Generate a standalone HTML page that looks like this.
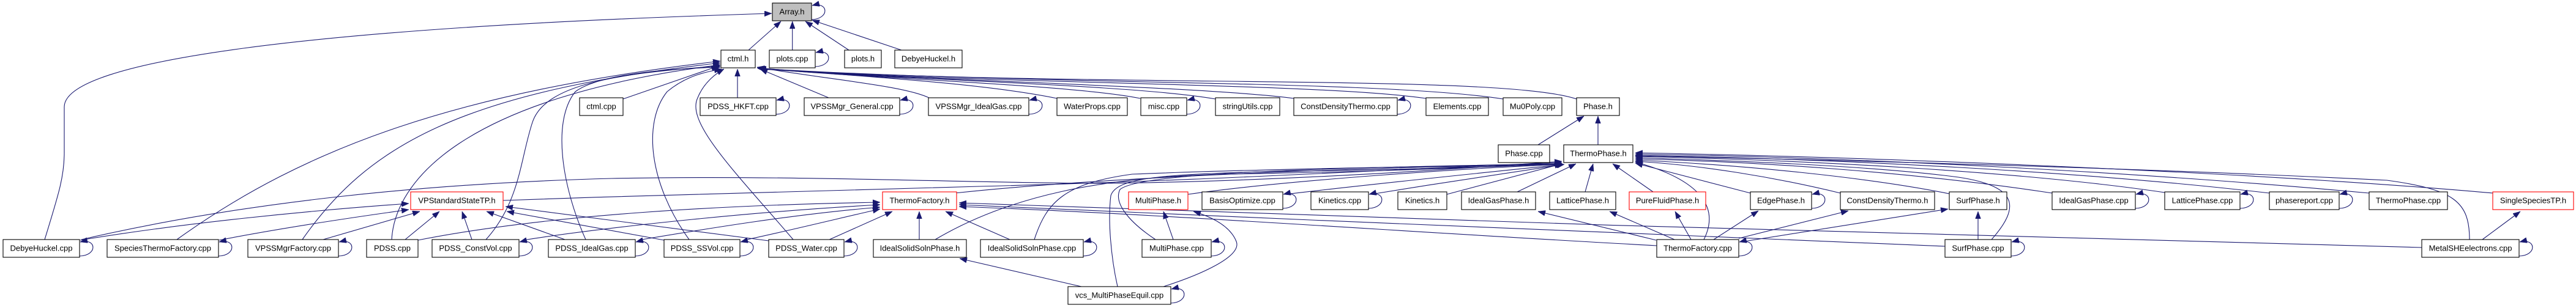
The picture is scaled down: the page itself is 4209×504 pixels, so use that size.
<!DOCTYPE html>
<html><head><meta charset="utf-8"><style>
html,body{margin:0;padding:0;background:#fff;}
svg{display:block;}
text{font-family:"Liberation Sans",Arial,sans-serif;font-size:13px;text-anchor:middle;fill:#000;}
.e{fill:none;stroke:#191970;stroke-width:1.1;marker-end:url(#a);}
.n{fill:#fff;stroke:#000;stroke-width:1.1;}
.r{fill:#fff;stroke:#ff0000;stroke-width:1.1;}
</style></head><body>
<svg width="4209" height="504" viewBox="0 0 4209 504" xmlns="http://www.w3.org/2000/svg">
<defs><marker id="a" markerWidth="12" markerHeight="9" refX="12" refY="4.5" orient="auto" markerUnits="userSpaceOnUse" viewBox="0 0 12 9"><path d="M0,0 L12,4.5 L0,9 z" fill="#191970" stroke="#191970" stroke-width="0.5"/></marker></defs>
<rect width="4209" height="504" fill="#fff"/>
<g>
<!-- to Array.h -->
<path class="e" d="M1223,82 L1276,35"/>
<path class="e" d="M1294.7,82 L1294.7,35"/>
<path class="e" d="M1387,82 L1316,35"/>
<path class="e" d="M1473,82 L1327,33"/>
<path class="e" d="M73,392 C95,320 105,290 105,250 L105,175 C105,100 500,45 1261,22"/>
<!-- to ctml.h -->
<path class="e" d="M1018,162 L1174,108"/>
<path class="e" d="M1205,160 L1205,113"/>
<path class="e" d="M1354,160 L1242,113"/>
<path class="e" d="M1520,161 C1480,140 1350,130 1237,110"/>
<path class="e" d="M1727,161 C1600,135 1400,125 1237,111"/>
<path class="e" d="M1863,161 C1750,138 1400,128 1238,111"/>
<path class="e" d="M1986,162 C1850,138 1450,130 1238,112"/>
<path class="e" d="M2114,161 C1950,140 1500,132 1239,112"/>
<path class="e" d="M2330,161 C2150,135 1600,138 1239,112"/>
<path class="e" d="M2456,162 C2250,130 1700,140 1240,112"/>
<path class="e" d="M2576,162 C2450,120 1800,145 1240,113"/>
<path class="e" d="M289,392 C500,240 750,150 1177,100"/>
<path class="e" d="M494,392 C600,240 750,150 1177,103"/>
<path class="e" d="M640,392 C645,300 750,160 1177,106"/>
<path class="e" d="M794,392 C850,330 850,260 870,200 C890,140 1000,120 1177,108"/>
<path class="e" d="M957,392 C920,310 900,200 940,150 C980,120 1100,112 1177,110"/>
<path class="e" d="M1126,392 C1060,300 1050,200 1090,150 C1120,125 1150,118 1179,113"/>
<path class="e" d="M1296,392 C1200,280 1120,200 1140,160 C1150,135 1170,120 1183,113"/>
<!-- Phase.h -->
<path class="e" d="M2513,237 L2588,190"/>
<path class="e" d="M2611,237 L2611,190"/>
<!-- to VPStandardStateTP.h -->
<path class="e" d="M131,393 C300,365 500,345 668,333"/>
<path class="e" d="M358,393 C450,375 560,358 668,343"/>
<path class="e" d="M528,392 L686,346"/>
<path class="e" d="M662,392 L718,346"/>
<path class="e" d="M771,392 L755,346"/>
<path class="e" d="M923,392 L795,346"/>
<path class="e" d="M1085,393 L828,346"/>
<path class="e" d="M1256,394 L826,338"/>
<!-- to ThermoFactory.h -->
<path class="e" d="M683,393 C900,350 1200,335 1438,331"/>
<path class="e" d="M855,393 C1000,370 1250,345 1438,335"/>
<path class="e" d="M1043,393 C1150,375 1300,350 1438,339"/>
<path class="e" d="M1216,393 C1300,375 1380,355 1438,342"/>
<path class="e" d="M1353,393 L1458,346"/>
<path class="e" d="M1502,392 L1502,346"/>
<path class="e" d="M1650,392 L1545,346"/>
<path class="e" d="M2707,402 C2300,380 1900,350 1567,338"/>
<path class="e" d="M3178,403 C2700,385 2100,358 1567,335"/>
<path class="e" d="M3957,405 C3300,390 2300,360 1567,332"/>
<!-- to ThermoPhase.h (left side) -->
<path class="e" d="M1560,316 C1800,290 2200,275 2552,268"/>
<path class="e" d="M822,328 C1100,318 1400,310 1600,305 C2000,295 2300,275 2552,266"/>
<path class="e" d="M133,392 C400,330 700,300 1000,292 C1300,286 1600,300 1800,300 C2100,297 2400,275 2552,264"/>
<path class="e" d="M1941,318 C2100,295 2400,275 2553,269"/>
<path class="e" d="M2100,318 C2250,300 2450,280 2555,269"/>
<path class="e" d="M2240,318 C2350,300 2480,280 2556,269"/>
<path class="e" d="M2364,318 L2552,268"/>
<path class="e" d="M2479,314 L2575,268"/>
<path class="e" d="M2590,314 L2603,268"/>
<path class="e" d="M2701,314 L2635,268"/>
<path class="e" d="M1528,392 C1650,320 1800,290 2000,285 C2300,280 2450,272 2553,268"/>
<path class="e" d="M1690,392 C1710,330 1740,300 1850,285 C2100,275 2400,272 2553,268"/>
<path class="e" d="M1888,392 C1840,360 1820,330 1830,310 C1860,285 2100,275 2553,268"/>
<path class="e" d="M1826,469 C1815,420 1810,360 1815,320 C1825,290 1900,285 2100,280 C2300,278 2450,272 2553,268"/>
<!-- MultiPhase / vcs -->
<path class="e" d="M1901,469 C1960,450 2030,420 2020,395 C2010,370 1980,355 1950,346"/>
<path class="e" d="M1917,392 L1901,346"/>
<path class="e" d="M1767,469 L1568,423"/>
<!-- ThermoFactory.cpp -->
<path class="e" d="M2706,393 L2513,346"/>
<path class="e" d="M2736,392 L2630,346"/>
<path class="e" d="M2763,392 L2737,346"/>
<path class="e" d="M2784,392 C2810,340 2780,295 2672,265"/>
<path class="e" d="M2800,392 L2873,345"/>
<path class="e" d="M2841,390 L3020,345"/>
<path class="e" d="M2850,395 L3183,342"/>
<!-- SurfPhase.cpp / MetalSHE -->
<path class="e" d="M3232,392 L3232,346"/>
<path class="e" d="M3254,392 C3300,340 3300,305 3200,290 C3050,270 2800,262 2672,258"/>
<path class="e" d="M4035,392 C4035,330 4010,310 3900,295 C3500,275 3000,262 2672,255"/>
<path class="e" d="M4056,392 L4118,346"/>
<!-- to ThermoPhase.h (right side) -->
<path class="e" d="M2860,316 L2672,267"/>
<path class="e" d="M3007,316 C2900,290 2780,270 2672,264"/>
<path class="e" d="M3185,317 C3050,290 2850,270 2672,262"/>
<path class="e" d="M3353,316 C3150,285 2900,265 2672,260"/>
<path class="e" d="M3537,315 C3300,280 2950,262 2672,256"/>
<path class="e" d="M3708,316 C3400,280 3000,260 2672,254"/>
<path class="e" d="M3871,316 C3500,282 3050,258 2672,252"/>
<path class="e" d="M4073,316 C3700,283 3100,258 2672,250"/>
<!-- self loops -->
<path class="e" d="M1326,32 C1356,31 1354,2 1327,9"/>
<path class="e" d="M1332,109 C1362,108 1360,79 1333,86"/>
<path class="e" d="M1268,187 C1298,186 1296,157 1269,164"/>
<path class="e" d="M1470,187 C1500,186 1498,157 1471,164"/>
<path class="e" d="M1681,187 C1711,186 1709,157 1682,164"/>
<path class="e" d="M1939,187 C1969,186 1967,157 1940,164"/>
<path class="e" d="M2283,187 C2313,186 2311,157 2284,164"/>
<path class="e" d="M2096,341 C2126,340 2124,311 2097,318"/>
<path class="e" d="M2236,341 C2266,340 2264,311 2237,318"/>
<path class="e" d="M2960,341 C2990,340 2988,311 2961,318"/>
<path class="e" d="M3489,341 C3519,340 3517,311 3490,318"/>
<path class="e" d="M3660,341 C3690,340 3688,311 3661,318"/>
<path class="e" d="M3822,341 C3852,340 3850,311 3823,318"/>
<path class="e" d="M130,419 C160,418 158,389 131,396"/>
<path class="e" d="M357,419 C387,418 385,389 358,396"/>
<path class="e" d="M553,419 C583,418 581,389 554,396"/>
<path class="e" d="M848,419 C878,418 876,389 849,396"/>
<path class="e" d="M1038,419 C1068,418 1066,389 1039,396"/>
<path class="e" d="M1209,419 C1239,418 1237,389 1210,396"/>
<path class="e" d="M1379,419 C1409,418 1407,389 1380,396"/>
<path class="e" d="M1770,419 C1800,418 1798,389 1771,396"/>
<path class="e" d="M1979,419 C2009,418 2007,389 1980,396"/>
<path class="e" d="M2841,419 C2871,418 2869,389 2842,396"/>
<path class="e" d="M3286,419 C3316,418 3314,389 3287,396"/>
<path class="e" d="M4116,419 C4146,418 4144,389 4117,396"/>
<path class="e" d="M1913,496 C1943,495 1941,466 1914,473"/>
</g>
<g>
<rect x="1262" y="5" width="64" height="29" fill="#bfbfbf" stroke="#000" stroke-width="1.1"/><text x="1294" y="23.5">Array.h</text>
<rect class="n" x="1178" y="82" width="56" height="29"/><text x="1206" y="100.5">ctml.h</text>
<rect class="n" x="1257" y="82" width="75" height="29"/><text x="1294.5" y="100.5">plots.cpp</text>
<rect class="n" x="1380" y="82" width="60" height="29"/><text x="1410" y="100.5">plots.h</text>
<rect class="n" x="1462" y="82" width="110" height="29"/><text x="1517" y="100.5">DebyeHuckel.h</text>

<rect class="n" x="947" y="160" width="71" height="29"/><text x="982.5" y="178.5">ctml.cpp</text>
<rect class="n" x="1144" y="160" width="124" height="29"/><text x="1206" y="178.5">PDSS_HKFT.cpp</text>
<rect class="n" x="1314" y="160" width="156" height="29"/><text x="1392" y="178.5">VPSSMgr_General.cpp</text>
<rect class="n" x="1517" y="160" width="164" height="29"/><text x="1599" y="178.5">VPSSMgr_IdealGas.cpp</text>
<rect class="n" x="1727" y="160" width="115" height="29"/><text x="1784.5" y="178.5">WaterProps.cpp</text>
<rect class="n" x="1864" y="160" width="75" height="29"/><text x="1901.5" y="178.5">misc.cpp</text>
<rect class="n" x="1986" y="160" width="105" height="29"/><text x="2038.5" y="178.5">stringUtils.cpp</text>
<rect class="n" x="2114" y="160" width="169" height="29"/><text x="2198.5" y="178.5">ConstDensityThermo.cpp</text>
<rect class="n" x="2330" y="160" width="102" height="29"/><text x="2381" y="178.5">Elements.cpp</text>
<rect class="n" x="2456" y="160" width="96" height="29"/><text x="2504" y="178.5">Mu0Poly.cpp</text>
<rect class="n" x="2576" y="160" width="70" height="29"/><text x="2611" y="178.5">Phase.h</text>

<rect class="n" x="2448" y="237" width="84" height="29"/><text x="2490" y="255.5">Phase.cpp</text>
<rect class="n" x="2555" y="237" width="113" height="29"/><text x="2611.5" y="255.5">ThermoPhase.h</text>

<rect class="r" x="671" y="314" width="151" height="29"/><text x="746.5" y="332.5">VPStandardStateTP.h</text>
<rect class="r" x="1442" y="314" width="121" height="29"/><text x="1502.5" y="332.5">ThermoFactory.h</text>
<rect class="r" x="1844" y="314" width="97" height="29"/><text x="1892.5" y="332.5">MultiPhase.h</text>
<rect class="n" x="1964" y="314" width="132" height="29"/><text x="2030" y="332.5">BasisOptimize.cpp</text>
<rect class="n" x="2142" y="314" width="94" height="29"/><text x="2189" y="332.5">Kinetics.cpp</text>
<rect class="n" x="2284" y="314" width="80" height="29"/><text x="2324" y="332.5">Kinetics.h</text>
<rect class="n" x="2388" y="314" width="121" height="29"/><text x="2448.5" y="332.5">IdealGasPhase.h</text>
<rect class="n" x="2532" y="314" width="108" height="29"/><text x="2586" y="332.5">LatticePhase.h</text>
<rect class="r" x="2662" y="314" width="125" height="29"/><text x="2724.5" y="332.5">PureFluidPhase.h</text>
<rect class="n" x="2860" y="314" width="100" height="29"/><text x="2910" y="332.5">EdgePhase.h</text>
<rect class="n" x="3007" y="314" width="154" height="29"/><text x="3084" y="332.5">ConstDensityThermo.h</text>
<rect class="n" x="3185" y="314" width="94" height="29"/><text x="3232" y="332.5">SurfPhase.h</text>
<rect class="n" x="3353" y="314" width="136" height="29"/><text x="3421" y="332.5">IdealGasPhase.cpp</text>
<rect class="n" x="3537" y="314" width="123" height="29"/><text x="3598.5" y="332.5">LatticePhase.cpp</text>
<rect class="n" x="3708" y="314" width="114" height="29"/><text x="3765" y="332.5">phasereport.cpp</text>
<rect class="n" x="3871" y="314" width="128" height="29"/><text x="3935" y="332.5">ThermoPhase.cpp</text>
<rect class="r" x="4073" y="314" width="132" height="29"/><text x="4139" y="332.5">SingleSpeciesTP.h</text>

<rect class="n" x="5" y="392" width="125" height="29"/><text x="67.5" y="410.5">DebyeHuckel.cpp</text>
<rect class="n" x="175" y="392" width="182" height="29"/><text x="266" y="410.5">SpeciesThermoFactory.cpp</text>
<rect class="n" x="405" y="392" width="148" height="29"/><text x="479" y="410.5">VPSSMgrFactory.cpp</text>
<rect class="n" x="599" y="392" width="84" height="29"/><text x="641" y="410.5">PDSS.cpp</text>
<rect class="n" x="706" y="392" width="142" height="29"/><text x="777" y="410.5">PDSS_ConstVol.cpp</text>
<rect class="n" x="896" y="392" width="142" height="29"/><text x="967" y="410.5">PDSS_IdealGas.cpp</text>
<rect class="n" x="1085" y="392" width="124" height="29"/><text x="1147" y="410.5">PDSS_SSVol.cpp</text>
<rect class="n" x="1256" y="392" width="123" height="29"/><text x="1317.5" y="410.5">PDSS_Water.cpp</text>
<rect class="n" x="1427" y="392" width="152" height="29"/><text x="1503" y="410.5">IdealSolidSolnPhase.h</text>
<rect class="n" x="1602" y="392" width="168" height="29"/><text x="1686" y="410.5">IdealSolidSolnPhase.cpp</text>
<rect class="n" x="1866" y="392" width="113" height="29"/><text x="1922.5" y="410.5">MultiPhase.cpp</text>
<rect class="n" x="2707" y="392" width="134" height="29"/><text x="2774" y="410.5">ThermoFactory.cpp</text>
<rect class="n" x="3178" y="392" width="108" height="29"/><text x="3232" y="410.5">SurfPhase.cpp</text>
<rect class="n" x="3957" y="392" width="159" height="29"/><text x="4036.5" y="410.5">MetalSHEelectrons.cpp</text>

<rect class="n" x="1745" y="469" width="168" height="29"/><text x="1829" y="487.5">vcs_MultiPhaseEquil.cpp</text>
</g>
</svg>
</body></html>
